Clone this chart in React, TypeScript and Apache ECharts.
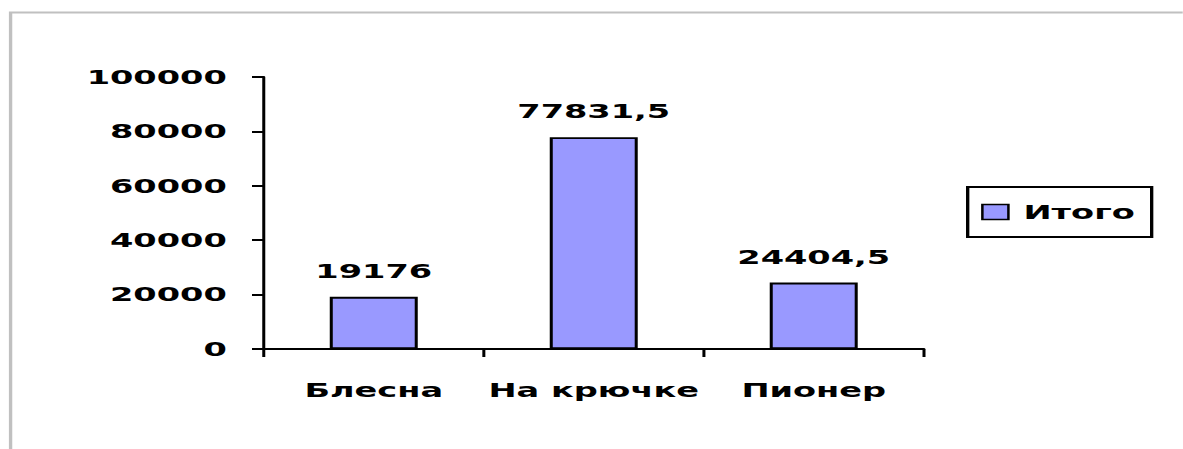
import React, { useEffect, useRef } from "react";
import * as echarts from "echarts";

const categories = ["Блесна", "На крючке", "Пионер"];
const totals = [19176, 77831.5, 24404.5];
const seriesName = "Итого";
const yMin = 0;
const yMax = 100000;
const yInterval = 20000;

const STRETCH = 1.68;
const FULL_W = 1183;
const FULL_H = 449;
const FONT = "'DejaVu Sans', Verdana, sans-serif";

export default function App() {
  const ref = useRef<HTMLDivElement>(null);

  useEffect(() => {
    document.body.style.margin = "0";
    if (!ref.current) return;
    const chart = echarts.init(ref.current, undefined, { renderer: "svg" });
    const textStyle = { fontFamily: FONT, fontWeight: "bold" as const, fontSize: 20, color: "#000" };
    chart.setOption({
      animation: false,
      backgroundColor: "#fff",
      textStyle: { fontFamily: FONT },
      graphic: [
        {
          type: "rect",
          shape: { x: 6.3, y: 12.5, width: 900, height: 600 },
          style: { fill: "none", stroke: "#c0c0c0", lineWidth: 2 },
          silent: true,
        },
      ],
      grid: { left: 157, right: FULL_W / STRETCH - 550, top: 77, bottom: FULL_H - 349, containLabel: false },
      legend: {
        left: 576,
        top: 187,
        orient: "vertical",
        data: [seriesName],
        borderColor: "#000",
        borderWidth: 2,
        padding: [15, 10, 15, 8],
        itemWidth: 15.5,
        itemHeight: 15,
        itemGap: 5,
        textStyle: { ...textStyle, padding: [0, 0, 0, 4] },
        itemStyle: { borderColor: "#000", borderWidth: 1.5 },
        icon: "rect",
      },
      xAxis: {
        type: "category",
        data: categories,
        boundaryGap: true,
        axisLine: { show: true, lineStyle: { color: "#000", width: 2 } },
        axisTick: { show: true, length: 8, lineStyle: { color: "#000", width: 1.8 }, alignWithLabel: false },
        axisLabel: { ...textStyle, margin: 31, interval: 0, hideOverlap: false },
        splitLine: { show: false },
      },
      yAxis: {
        type: "value",
        min: yMin,
        max: yMax,
        interval: yInterval,
        axisLine: { show: true, lineStyle: { color: "#000", width: 1.8 } },
        axisTick: { show: true, length: 7, lineStyle: { color: "#000", width: 2 } },
        axisLabel: { ...textStyle, margin: 22, formatter: (v: number) => String(v) },
        splitLine: { show: false },
      },
      series: [
        {
          name: seriesName,
          type: "bar",
          data: totals,
          barWidth: "40%",
          itemStyle: { color: "#9999FF", borderColor: "#000", borderWidth: 1.8 },
          label: {
            show: true,
            position: "top",
            distance: 16,
            ...textStyle,
            formatter: (p: any) => String(p.value).replace(".", ","),
          },
        },
      ],
    });
    return () => chart.dispose();
  }, []);

  return (
    <div style={{ width: FULL_W, height: FULL_H, overflow: "hidden" }}>
      <div
        ref={ref}
        style={{
          width: FULL_W / STRETCH,
          height: FULL_H,
          transform: `scaleX(${STRETCH})`,
          transformOrigin: "left top",
        }}
      />
    </div>
  );
}
